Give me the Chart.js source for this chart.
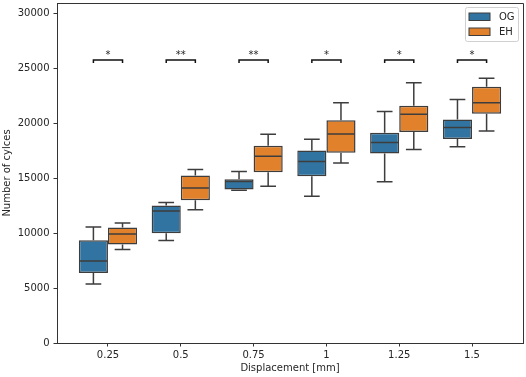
<!DOCTYPE html>
<html>
<head>
<meta charset="utf-8">
<script src="https://cdn.jsdelivr.net/npm/chart.js@4.4.1/dist/chart.umd.min.js"></script>
<style>
  body { margin: 0; background: #fff; }
  #wrap { width: 526px; height: 377px; }
</style>
</head>
<body>
<div id="wrap"><canvas id="boxChart" width="526" height="377"></canvas></div>
<script>
// categories (displacement in mm)
const categories = ["0.25", "0.5", "0.75", "1", "1.25", "1.5"];

// OG group: whisker low, Q1, median, Q3, whisker high
const ogMin = [5380, 9330, 13900, 13360, 14670, 17860];
const ogQ1  = [6380, 10000, 13980, 15170, 17250, 18580];
const ogMed = [7470, 12020, 14700, 16530, 18260, 19620];
const ogQ3  = [9360, 12520, 14910, 17530, 19130, 20350];
const ogMax = [10570, 12790, 15610, 18540, 21080, 22170];

// EH group
const ehMin = [8510, 12120, 14280, 16390, 17620, 19290];
const ehQ1  = [8960, 13000, 15550, 17310, 19200, 20860];
const ehMed = [9920, 14120, 17010, 19030, 20830, 21860];
const ehQ3  = [10510, 15250, 17950, 20270, 21590, 23320];
const ehMax = [10920, 15800, 19010, 21860, 23690, 24110];

// significance markers above each pair
const sigLabels = ["*", "**", "**", "*", "*", "*"];
const sigLevel = 25750;

const yTicks = [0, 5000, 10000, 15000, 20000, 25000, 30000];

const lineColor = "#3d3d3d";
const axisColor = "#333333";
const fontFamily = "'DejaVu Sans', sans-serif";

const whiskers = [
    { min: ogMin, med: ogMed, max: ogMax, q1: ogQ1, q3: ogQ3 },
    { min: ehMin, med: ehMed, max: ehMax, q1: ehQ1, q3: ehQ3 }
];

const boxPlugin = {
    id: "boxParts",
    afterDatasetsDraw(chart) {
        const ctx = chart.ctx;
        const y = chart.scales.y;
        const x = chart.scales.x;
        ctx.save();
        ctx.strokeStyle = lineColor;
        ctx.lineWidth = 1.5;
        whiskers.forEach((w, di) => {
            const meta = chart.getDatasetMeta(di);
            meta.data.forEach((bar, i) => {
                const cx = bar.x;
                const half = bar.width / 2;
                const cap = bar.width * 0.27;
                const yMax = y.getPixelForValue(w.max[i]);
                const yMin = y.getPixelForValue(w.min[i]);
                const yMed = y.getPixelForValue(w.med[i]);
                ctx.beginPath();
                // upper whisker + cap
                ctx.moveTo(cx, y.getPixelForValue(w.q3[i]));
                ctx.lineTo(cx, yMax);
                ctx.moveTo(cx - cap, yMax);
                ctx.lineTo(cx + cap, yMax);
                // lower whisker + cap
                ctx.moveTo(cx, y.getPixelForValue(w.q1[i]));
                ctx.lineTo(cx, yMin);
                ctx.moveTo(cx - cap, yMin);
                ctx.lineTo(cx + cap, yMin);
                // median
                ctx.moveTo(cx - half + 1, yMed);
                ctx.lineTo(cx + half - 1, yMed);
                ctx.stroke();
            });
        });

        // significance brackets
        ctx.strokeStyle = "#111";
        ctx.lineWidth = 1.5;
        ctx.fillStyle = "#262626";
        ctx.font = "10px " + fontFamily;
        ctx.textAlign = "center";
        ctx.textBaseline = "alphabetic";
        sigLabels.forEach((lab, i) => {
            const x0 = x.getPixelForValue(i - 0.2);
            const x1 = x.getPixelForValue(i + 0.2);
            const yy = y.getPixelForValue(sigLevel);
            ctx.beginPath();
            ctx.moveTo(x0, yy + 3);
            ctx.lineTo(x0, yy);
            ctx.lineTo(x1, yy);
            ctx.lineTo(x1, yy + 3);
            ctx.stroke();
            ctx.fillText(lab, x.getPixelForValue(i), yy - 2);
        });

        // top and right spines
        const a = chart.chartArea;
        ctx.strokeStyle = axisColor;
        ctx.lineWidth = 1;
        ctx.beginPath();
        ctx.moveTo(a.left, a.top + 0.5);
        ctx.lineTo(a.right + 0.5, a.top + 0.5);
        ctx.lineTo(a.right + 0.5, a.bottom);
        ctx.stroke();

        // legend
        const lx = a.right - 58, ly = a.top + 4;
        ctx.fillStyle = "rgba(255,255,255,0.8)";
        ctx.strokeStyle = "#d0d0d0";
        ctx.beginPath();
        ctx.roundRect(lx + 0.5, ly + 0.5, 53, 34, 2);
        ctx.fill();
        ctx.stroke();
        chart.data.datasets.forEach((ds, i) => {
            const ry = ly + 6 + i * 15;
            ctx.fillStyle = ds.backgroundColor;
            ctx.fillRect(lx + 4, ry, 21, 7.5);
            ctx.strokeStyle = lineColor;
            ctx.lineWidth = 1;
            ctx.strokeRect(lx + 4, ry, 21, 7.5);
            ctx.fillStyle = "#262626";
            ctx.textAlign = "left";
            ctx.textBaseline = "middle";
            ctx.fillText(ds.label, lx + 34, ry + 4);
        });
        ctx.restore();
    }
};

new Chart(document.getElementById("boxChart"), {
    type: "bar",
    data: {
        datasets: [
            {
                label: "OG",
                data: categories.map((c, i) => ({ x: i, y: [ogQ1[i], ogQ3[i]] })),
                backgroundColor: "#3274a1",
                borderColor: lineColor,
                borderWidth: 1.5,
                borderSkipped: false
            },
            {
                label: "EH",
                data: categories.map((c, i) => ({ x: i, y: [ehQ1[i], ehQ3[i]] })),
                backgroundColor: "#e1812c",
                borderColor: lineColor,
                borderWidth: 1.5,
                borderSkipped: false
            }
        ]
    },
    options: {
        responsive: false,
        animation: false,
        devicePixelRatio: 1,
        categoryPercentage: 0.8,
        barPercentage: 1,
        layout: { padding: { top: 3, right: 3, left: 0, bottom: 0 } },
        plugins: {
            legend: { display: false },
            tooltip: { enabled: false }
        },
        scales: {
            x: {
                type: "linear",
                offset: false,
                min: -0.7,
                max: 5.7,
                afterBuildTicks: (scale) => {
                    scale.ticks = categories.map((c, i) => ({ value: i }));
                },
                afterFit: (scale) => {
                    scale.height = 34;
                    scale.paddingLeft = 0;
                    scale.paddingRight = 0;
                },
                ticks: {
                    autoSkip: false,
                    maxRotation: 0,
                    padding: 3,
                    color: "#262626",
                    font: { family: fontFamily, size: 10 },
                    callback: (v) => categories[v]
                },
                grid: { drawOnChartArea: false, offset: false, tickLength: 3.5, tickColor: axisColor },
                border: { color: axisColor, width: 1 },
                title: {
                    display: true,
                    text: "Displacement [mm]",
                    color: "#262626",
                    font: { family: fontFamily, size: 10 },
                    padding: { top: 0, bottom: 3 }
                }
            },
            y: {
                min: 0,
                max: 30950,
                afterBuildTicks: (scale) => {
                    scale.ticks = yTicks.map(v => ({ value: v }));
                },
                afterFit: (scale) => {
                    scale.width = 57;
                    scale.paddingTop = 0;
                    scale.paddingBottom = 0;
                },
                ticks: {
                    padding: 4,
                    color: "#262626",
                    font: { family: fontFamily, size: 10 },
                    callback: (v) => String(v)
                },
                grid: { drawOnChartArea: false, tickLength: 3.5, tickColor: axisColor },
                border: { color: axisColor, width: 1 },
                title: {
                    display: true,
                    text: "Number of cylces",
                    color: "#262626",
                    font: { family: fontFamily, size: 10 },
                    padding: { top: 1.5, bottom: 0 }
                }
            }
        }
    },
    plugins: [boxPlugin]
});
</script>
</body>
</html>
